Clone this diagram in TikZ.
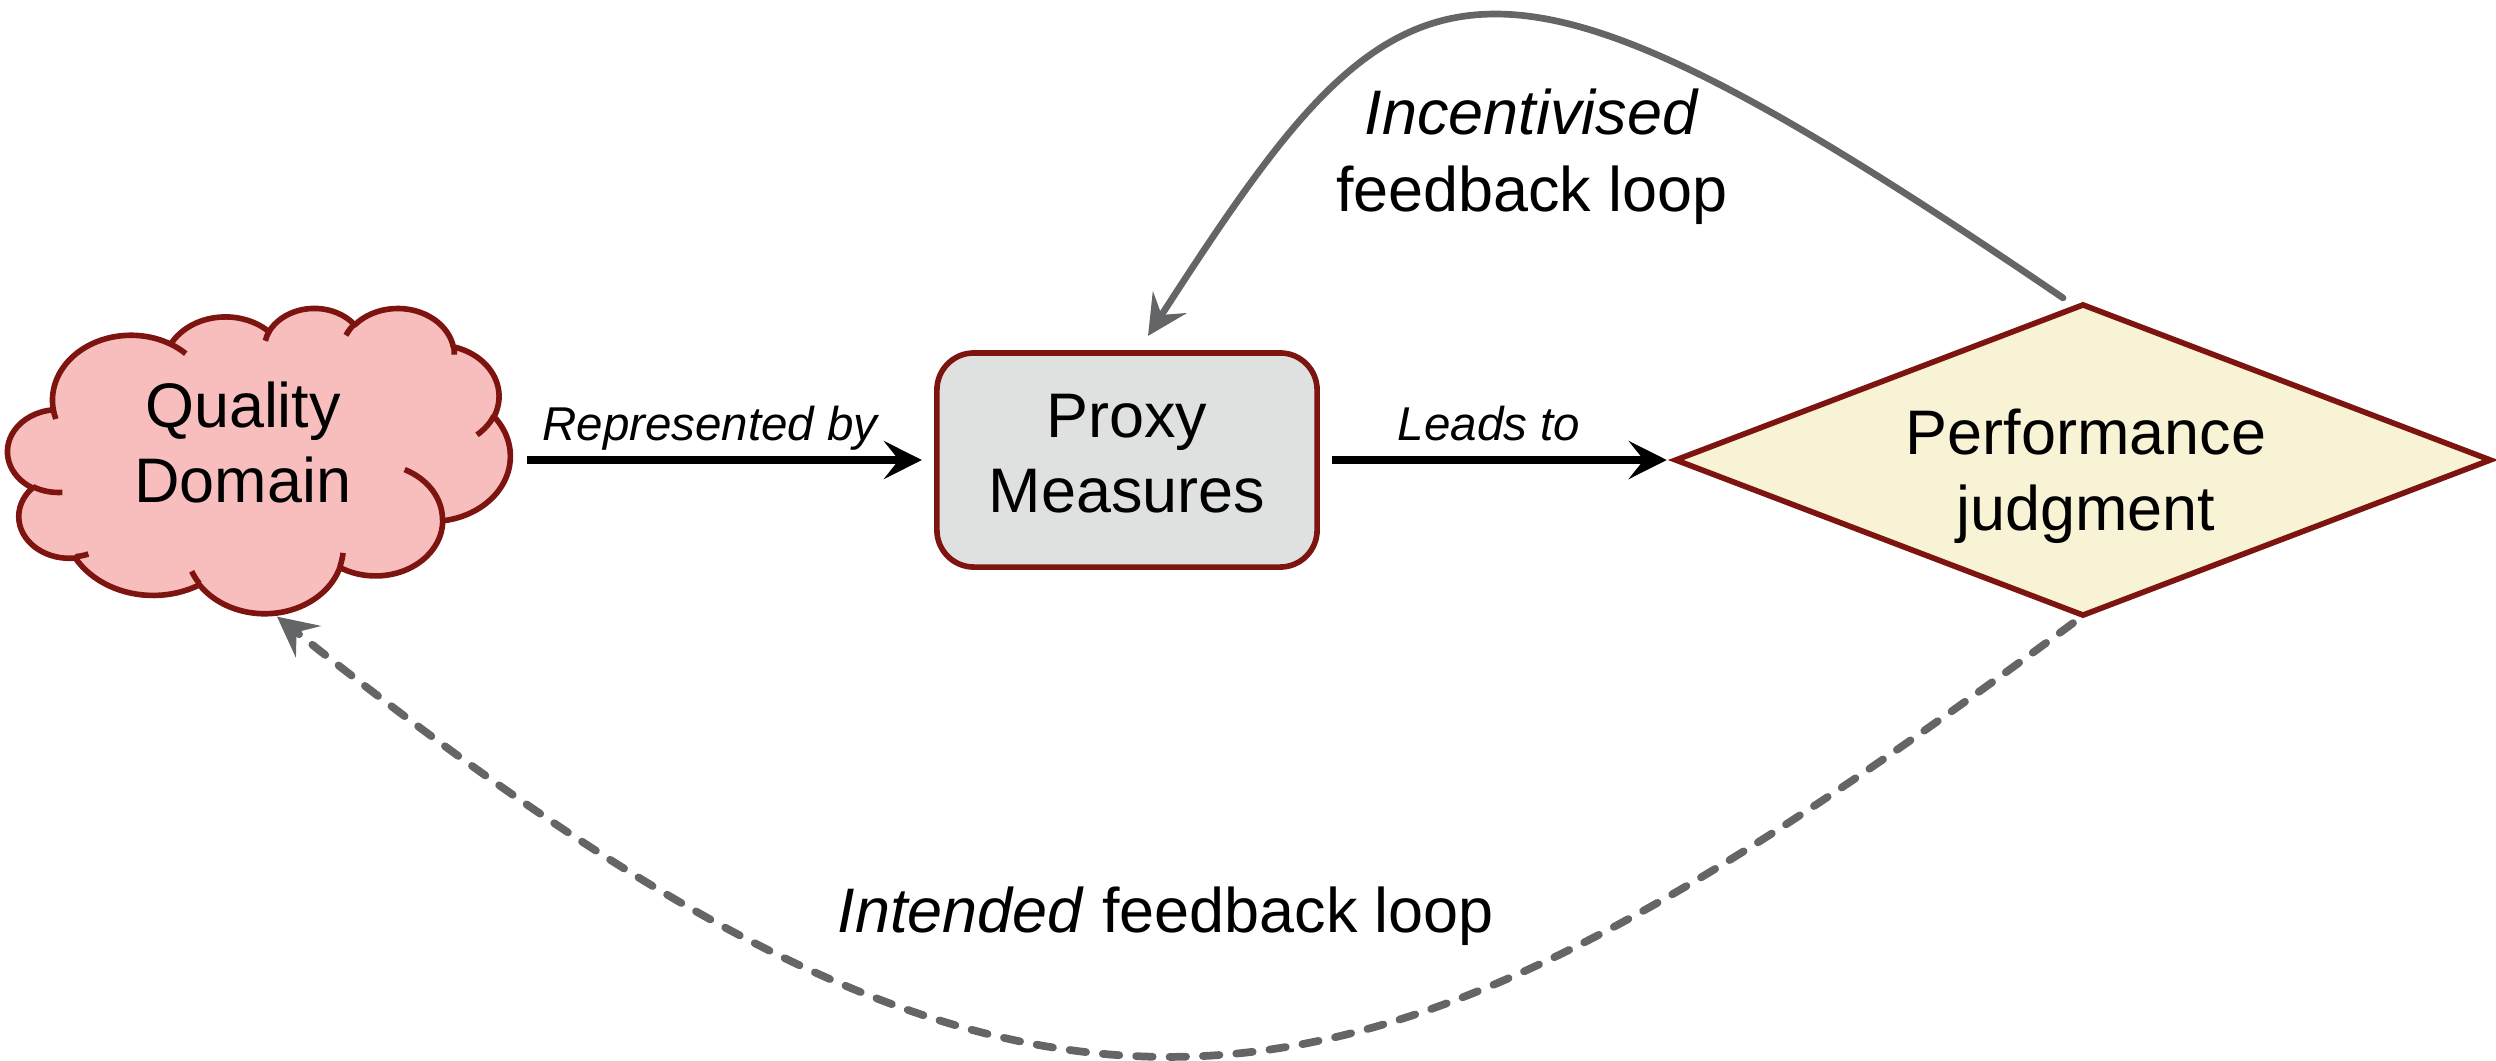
\documentclass[tikz,border=0pt]{standalone}
\usepackage{fontspec}
\setmainfont{Liberation Sans}
\usetikzlibrary{arrows.meta,shapes.geometric,calc}
\definecolor{cloudfill}{RGB}{247,190,189}
\definecolor{darkred}{RGB}{125,20,15}
\definecolor{boxfill}{RGB}{223,224,224}
\definecolor{diafill}{RGB}{248,243,212}
\definecolor{loopgray}{RGB}{100,101,103}
\newcommand\cldang[4]{%
  \pgfmathsetmacro\cldtsA{atan2((#1)*sin(#3),(#2)*cos(#3))}%
  \pgfmathsetmacro\cldteA{atan2((#1)*sin((#3)+(#4)),(#2)*cos((#3)+(#4)))}%
  \pgfmathsetmacro\cldteB{ifthenelse((#4)>0,ifthenelse(\cldteA<\cldtsA,\cldteA+360,\cldteA),ifthenelse(\cldteA>\cldtsA,\cldteA-360,\cldteA))}%
  \xdef\cldts{\cldtsA}\xdef\cldte{\cldteB}}
\newcommand\cldarc[4]{\pgfextra{\cldang{#1}{#2}{#3}{#4}} arc[start angle=\cldts,end angle=\cldte,x radius=#1,y radius=#2]}
\begin{document}
\begin{tikzpicture}[x=0.01cm,y=-0.01cm,
  cloudline/.style={draw=darkred,line width=1.6pt,line join=round},
  cloudbox/.style={rectangle,minimum width=5.02cm,minimum height=3.05cm,inner sep=0pt,outer sep=0pt},
  pmbox/.style={rectangle,rounded corners=0.37cm,minimum width=3.8cm,minimum height=2.14cm,inner sep=0pt,outer sep=0pt,fill=boxfill,draw=darkred,line width=1.6pt},
  dianode/.style={diamond,aspect=2.626,minimum width=8.14cm,minimum height=3.10cm,inner sep=0pt,outer sep=0pt,fill=diafill,draw=darkred,line width=1.6pt},
  txt/.style={font=\fontsize{17.9}{21.5}\selectfont,align=center,inner sep=0pt},
  looptxt/.style={font=\fontsize{17.9}{21.9}\selectfont,align=center,inner sep=0pt},
  lbl/.style={font=\fontsize{13.5}{16}\selectfont\itshape,inner sep=0pt,anchor=base},
  blackarrow/.style={line width=2.1pt,-{Stealth[length=0.38cm,width=0.38cm,inset=0.15cm]}},
  incarrow/.style={draw=loopgray,line width=1.9pt,line cap=round,-{Stealth[length=0.40cm,width=0.40cm,inset=0.15cm,fill=loopgray]}},
  intarrow/.style={draw=loopgray,line width=2.2pt,line cap=round,dash pattern=on 4.7pt off 4.8pt,-{Stealth[length=0.40cm,width=0.40cm,inset=0.15cm,fill=loopgray]}}]
\useasboundingbox (0,0) rectangle (2496,1060);
% cloud
\node[cloudbox] (cloud) at (259,460) {};
\begin{scope}[shift={(cloud.north west)},x={(0.0502cm,0)},y={(0,-0.0305cm)}]
\filldraw[cloudline,fill=cloudfill] (9.028,33.264)
 \cldarc{15.632}{21.273}{-190.4875}{123.7805}
 \cldarc{12.345}{16.822}{-144.1024}{89.9452}
 \cldarc{10.104}{13.762}{-145.8079}{99.7230}
 \cldarc{11.243}{15.266}{-130.9861}{117.2417}
 \cldarc{12.345}{16.836}{-78.7089}{109.0269}
 \cldarc{15.683}{21.343}{-46.2673}{130.2690}
 \cldarc{13.391}{18.211}{0.6250}{114.0333}
 \cldarc{15.630}{21.331}{22.4516}{115.1726}
 \cldarc{17.870}{24.405}{66.2426}{75.7110}
 \cldarc{10.093}{13.699}{-274.9421}{146.7356}
 \cldarc{10.058}{13.762}{-246.8285}{152.5189}
 -- cycle;
\draw[cloudline,line cap=butt]
 (10.863,60.595) \cldarc{10.058}{13.762}{86.7420}{26.4295}
 (16.037,80.785) \cldarc{10.093}{13.699}{73.6105}{11.4475}
 (38.144,90.486) \cldarc{15.630}{21.331}{137.6242}{14.0811}
 (66.729,80.442) \cldarc{15.630}{21.331}{6.4533}{15.9984}
 (79.002,53.134) \cldarc{13.391}{18.211}{-70.2924}{70.9174}
 (96.755,35.542) \cldarc{12.345}{16.836}{30.3180}{27.7515}
 (88.713,12.560) \cldarc{11.243}{15.266}{-13.7443}{14.8589}
 (67.310,9.148) \cldarc{11.243}{15.266}{-149.1815}{18.1954}
 (51.252,10.926) \cldarc{10.104}{13.762}{-163.4943}{17.6864}
 (32.407,12.019) \cldarc{15.632}{21.273}{-66.7070}{12.3194}
 (9.553,36.549) \cldarc{15.632}{21.273}{157.6544}{11.8582};
\end{scope}
\node[txt] (qdt) at (243,442.5) {Quality\\Domain};
% proxy measures
\node[pmbox] (pm) at (1127,460) {};
\node[txt] (pmt) at (1127,453.5) {Proxy\\Measures};
% performance judgment
\node[dianode] (pj) at (2083,460) {};
\node[txt] (pjt) at (2086,476) {Performance\\judgment};
% arrows
\draw[blackarrow] ([xshift=0.17cm]cloud.east) -- ([xshift=-0.15cm]pm.west);
\draw[blackarrow] ([xshift=0.15cm]pm.east) -- ([xshift=-0.09cm]pj.west);
\draw[incarrow] ($(pj.north)+(-20,-7)$) .. controls +(-595,-405) and +(255,-395) .. ($(pm.north)+(21,-17)$);
\draw[intarrow] ($(pj.south)+(-10,8)$) .. controls +(-724,535) and +(781,624) .. ($(cloud.south)+(18,4)$);
% labels
\node[lbl] (rb) at (710,440) {Represented by};
\node[lbl] (lt) at (1489,440) {Leads to};
\node[looptxt] (inc) at (1532,157) {\textit{Incentivised}\\feedback loop};
\node[looptxt,anchor=base] (intd) at (1166,932) {\textit{Intended} feedback loop};
\end{tikzpicture}
\end{document}
